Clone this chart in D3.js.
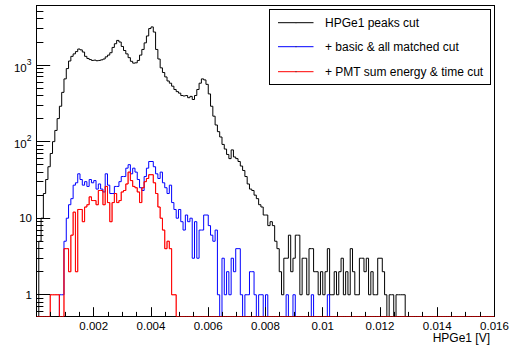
<!DOCTYPE html>
<html>
<head>
<meta charset="utf-8">
<script src="https://cdn.jsdelivr.net/npm/d3@7"></script>
<style>
  html, body { margin: 0; padding: 0; background: #fff; }
  svg { display: block; }
  text { font-family: "Liberation Sans", Arial, Helvetica, sans-serif; fill: #000; }
</style>
</head>
<body>
<svg id="chart" width="511" height="352"></svg>
<script>
// Histogram binning: 200 bins over [0, 0.016] V
const xMin = 0, xMax = 0.016, nBins = 200;

// Counts per bin (bins beyond the end of each array are empty)
const peaksCut = [
  0, 5, 10, 21, 32, 47, 70, 100, 140, 200,
  290, 440, 660, 900, 1130, 1300, 1400, 1500, 1620, 1580,
  1480, 1300, 1220, 1180, 1150, 1160, 1140, 1150, 1170, 1200,
  1280, 1350, 1450, 1700, 1900, 2100, 2000, 1750, 1550, 1400,
  1250, 1120, 1060, 1070, 1150, 1350, 1600, 1950, 2400, 3000,
  3150, 2700, 1600, 1200, 920, 800, 700, 620, 580, 530,
  480, 450, 430, 400, 395, 400, 375, 390, 355, 400,
  480, 580, 660, 640, 560, 420, 290, 215, 165, 135,
  115, 92, 80, 68, 60, 78, 63, 60, 55, 48,
  42, 35, 28, 24, 23, 20, 18, 15, 14, 11,
  11, 8, 9, 8, 5, 4, 2, 1, 3, 3,
  6, 2, 3, 6, 6, 1, 3, 3, 1, 4,
  4, 2, 2, 1, 2, 1, 2, 4, 1, 1,
  2, 1, 2, 3, 1, 2, 1, 4, 2, 1,
  1, 3, 3, 2, 3, 1, 2, 1, 1, 3,
  3, 2, 1, 0, 1, 1, 0, 1, 1, 1,
  1
];
const matchedCut = [
  0, 0, 0, 0, 0, 0, 0, 0, 0, 0,
  1, 1, 5, 10, 15, 18, 27, 29, 38, 32,
  27, 30, 26, 32, 29, 31, 24, 28, 24, 22,
  38, 27, 21, 21, 26, 26, 30, 35, 35, 45,
  50, 38, 45, 40, 32, 25, 23, 35, 45, 55,
  55, 47, 38, 33, 40, 29, 25, 21, 27, 16,
  13, 10, 13, 9, 7, 11, 9, 10, 3, 9,
  3, 7, 7, 11, 11, 8, 6, 5, 7, 1,
  0, 3, 1, 2, 1, 3, 2, 4, 4, 1,
  0, 1, 1, 2, 2, 1, 0, 1, 1, 0,
  1, 0, 0, 0, 0, 0, 0, 0, 0, 1,
  0, 0, 1, 0, 0, 0, 0, 0, 0, 0,
  1, 0, 0, 0, 0, 0, 0, 1
];
const pmtCut = [
  0, 0, 0, 0, 0, 0, 1, 1, 1, 1,
  0, 0, 4, 4, 2, 6, 12, 2, 13, 13,
  9, 14, 15, 19, 17, 17, 15, 23, 23, 15,
  26, 16, 9, 16, 21, 16, 17, 22, 23, 28,
  40, 31, 26, 25, 22, 16, 25, 30, 33, 37,
  37, 29, 21, 14, 10, 7, 4, 5, 4, 1,
  1
];

const seriesNames = ["HPGe1 peaks cut", "+ basic & all matched cut", "+ PMT sum energy & time cut"];
const seriesColors = ["#000000", "#0000ff", "#ff0000"];
const seriesData = [peaksCut, matchedCut, pmtCut];

const xTickLabels = ["0.002", "0.004", "0.006", "0.008", "0.01", "0.012", "0.014", "0.016"];
const yMajorTicks = [1, 10, 100, 1000];
const xTitle = "HPGe1 [V]";

// Frame
const L = 36.5, R = 494.5, T = 5.5, B = 316.5;
const yMin = 0.52, yMax = 6000;

const svg = d3.select("#chart");
svg.append("rect").attr("width", 511).attr("height", 352).attr("fill", "#fff");

const x = d3.scaleLinear().domain([xMin, xMax]).range([L, R]);
const y = d3.scaleLog().domain([yMin, yMax]).range([B, T]);
const binW = (xMax - xMin) / nBins;

// Histogram outline: empty bins drop to the frame bottom (log scale)
function histPath(counts) {
  const p = d3.path();
  for (let i = 0; i < nBins; i++) {
    const c = i < counts.length ? counts[i] : 0;
    const yy = c > 0 ? y(c) : B;
    const x0 = x(xMin + i * binW), x1 = x(xMin + (i + 1) * binW);
    if (i === 0) p.moveTo(x0, yy); else p.lineTo(x0, yy);
    p.lineTo(x1, yy);
  }
  return p.toString();
}

const plot = svg.append("g");
seriesData.forEach((d, k) => {
  plot.append("path")
    .attr("d", histPath(d))
    .attr("fill", "none")
    .attr("stroke", seriesColors[k])
    .attr("stroke-width", 1);
});

// Frame border
svg.append("rect")
  .attr("x", L).attr("y", T).attr("width", R - L).attr("height", B - T)
  .attr("fill", "none").attr("stroke", "#000").attr("stroke-width", 1)
  .attr("shape-rendering", "crispEdges");
// bottom edge redrawn by the last histogram where all bins are empty
svg.append("path").attr("d", histPath(pmtCut)).attr("fill", "none")
  .attr("stroke", seriesColors[2]).attr("stroke-width", 1).attr("opacity", 0.6);

// X axis ticks
const xAxis = svg.append("g");
const xTicks = d3.range(0, 33).map(i => i * 0.0005);
xTicks.forEach(v => {
  const major = Math.abs((v / 0.002) - Math.round(v / 0.002)) < 1e-6;
  const len = major ? 9.3 : 4.6;
  const xx = Math.round(x(v) - 0.5) + 0.5;
  xAxis.append("line")
    .attr("x1", xx).attr("x2", xx).attr("y1", B).attr("y2", B - len)
    .attr("stroke", "#000").attr("stroke-width", 1);
});
xTickLabels.forEach(lbl => {
  xAxis.append("text")
    .attr("x", x(+lbl)).attr("y", 329.5)
    .attr("text-anchor", "middle").attr("font-size", 11.5)
    .text(lbl);
});
svg.append("text")
  .attr("x", 490).attr("y", 342).attr("text-anchor", "end")
  .attr("font-size", 12).text(xTitle);

// Y axis ticks (log)
const yAxis = svg.append("g");
const yMinor = [];
[0.1, 1, 10, 100, 1000].forEach(dec => {
  for (let m = 2; m <= 9; m++) {
    const v = dec * m;
    if (v > yMin && v < yMax) yMinor.push(v);
  }
});
yMinor.forEach(v => {
  const yy = Math.round(y(v) - 0.5) + 0.5;
  yAxis.append("line").attr("x1", L).attr("x2", L + 6.9).attr("y1", yy).attr("y2", yy)
    .attr("stroke", "#000").attr("stroke-width", 1);
});
yMajorTicks.forEach(v => {
  const yy = Math.round(y(v) - 0.5) + 0.5;
  yAxis.append("line").attr("x1", L).attr("x2", L + 13.7).attr("y1", yy).attr("y2", yy)
    .attr("stroke", "#000").attr("stroke-width", 1);
  const exp = Math.round(Math.log10(v));
  if (exp <= 1) {
    yAxis.append("text").attr("x", 32).attr("y", y(v) + 4.3)
      .attr("text-anchor", "end").attr("font-size", 11.5).text(String(v));
  } else {
    const t = yAxis.append("text").attr("x", 31.5).attr("y", y(v) + 6.5)
      .attr("text-anchor", "end").attr("font-size", 11.5);
    t.append("tspan").text("10");
    t.append("tspan").attr("dy", -7).attr("font-size", 8.5).text(String(exp));
  }
});

// Legend
const lg = svg.append("g");
lg.append("rect").attr("x", 269.5).attr("y", 9.5).attr("width", 221).attr("height", 75)
  .attr("fill", "#fff").attr("stroke", "#000").attr("stroke-width", 1);
const rowY = [22.7, 46.7, 71.7];
seriesNames.forEach((name, k) => {
  const yy = rowY[k];
  lg.append("line").attr("x1", 278).attr("x2", 313.5).attr("y1", yy).attr("y2", yy)
    .attr("stroke", seriesColors[k]).attr("stroke-width", 1);
  lg.append("rect").attr("x", 295.5).attr("y", yy - 0.5).attr("width", 1).attr("height", 1)
    .attr("fill", "#333");
  lg.append("text").attr("x", 325).attr("y", yy + 4.4)
    .attr("font-size", 12).text(name);
});
</script>
</body>
</html>
